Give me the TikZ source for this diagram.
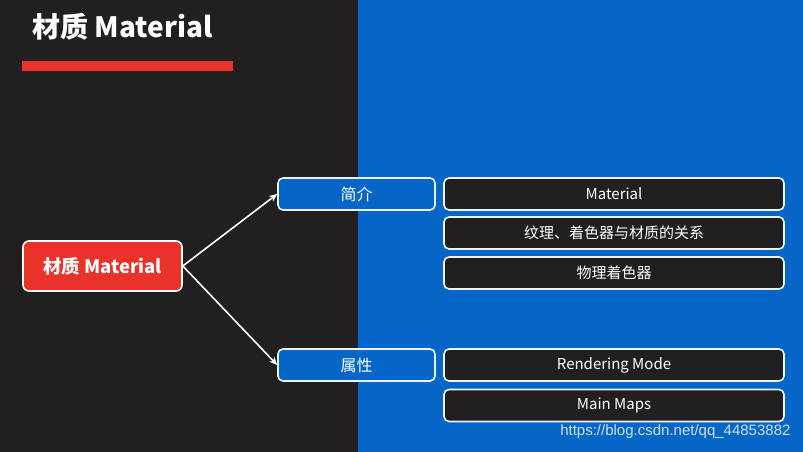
\documentclass[tikz,border=0pt]{standalone}
\usepackage{fontspec}
\setmainfont{Noto Sans CJK SC}
\newfontfamily\wmfont{Liberation Sans}
\usetikzlibrary{arrows.meta}

\definecolor{bgdark}{RGB}{35,31,32}
\definecolor{bgblue}{RGB}{6,102,200}
\definecolor{barred}{RGB}{232,50,42}
\definecolor{edgewhite}{RGB}{235,244,252}

\tikzset{
  rootbox/.style={draw=white, line width=1.6pt, fill=barred, rounded corners=6pt,
    minimum width=159pt, minimum height=50pt, text=white, font=\fontsize{18.5}{22}\selectfont\bfseries},
  topicbox/.style={draw=edgewhite, line width=1.6pt, fill=bgblue, rounded corners=5pt,
    minimum width=157pt, minimum height=32pt, text=white, font=\fontsize{16}{19}\selectfont},
  itembox/.style={draw=edgewhite, line width=1.6pt, fill=bgdark, rounded corners=5pt,
    minimum width=340pt, minimum height=32pt, text=white, font=\fontsize{15}{18}\selectfont},
  link/.style={draw=white, line width=1.6pt, -{Stealth[length=8pt,width=7pt]}}
}

\begin{document}
\begin{tikzpicture}[x=1pt,y=-1pt]
  % background
  \useasboundingbox (0,0) rectangle (803,452);
  \fill[bgdark] (0,0) rectangle (358,452);
  \fill[bgblue] (358,0) rectangle (803,452);

  % title
  \node[anchor=west, text=white, font=\fontsize{28}{32}\selectfont\bfseries] (title) at (29,27) {材质 Material};
  \fill[barred] (22,61) rectangle (233,71);

  % tree
  \node[rootbox] (root) at (102.5,266) {材质 Material};
  \node[topicbox] (intro) at (356.5,194) {简介};
  \node[topicbox] (props) at (356.5,365) {属性};

  \node[itembox] (mat) at (614,194) {Material};
  \node[itembox] (rel) at (614,233) {纹理、着色器与材质的关系};
  \node[itembox] (pbr) at (614,273) {物理着色器};
  \node[itembox] (mode) at (614,365) {Rendering Mode};
  \node[itembox] (maps) at (614,405.5) {Main Maps};

  \draw[link] (root.east) -- (intro.west);
  \draw[link] (root.east) -- (props.west);

  % watermark
  \node[anchor=east, text=white!80!bgblue, font=\wmfont\fontsize{15}{18}\selectfont] (wm) at (794,432) {https://blog.csdn.net/qq\_44853882};
\end{tikzpicture}
\end{document}
